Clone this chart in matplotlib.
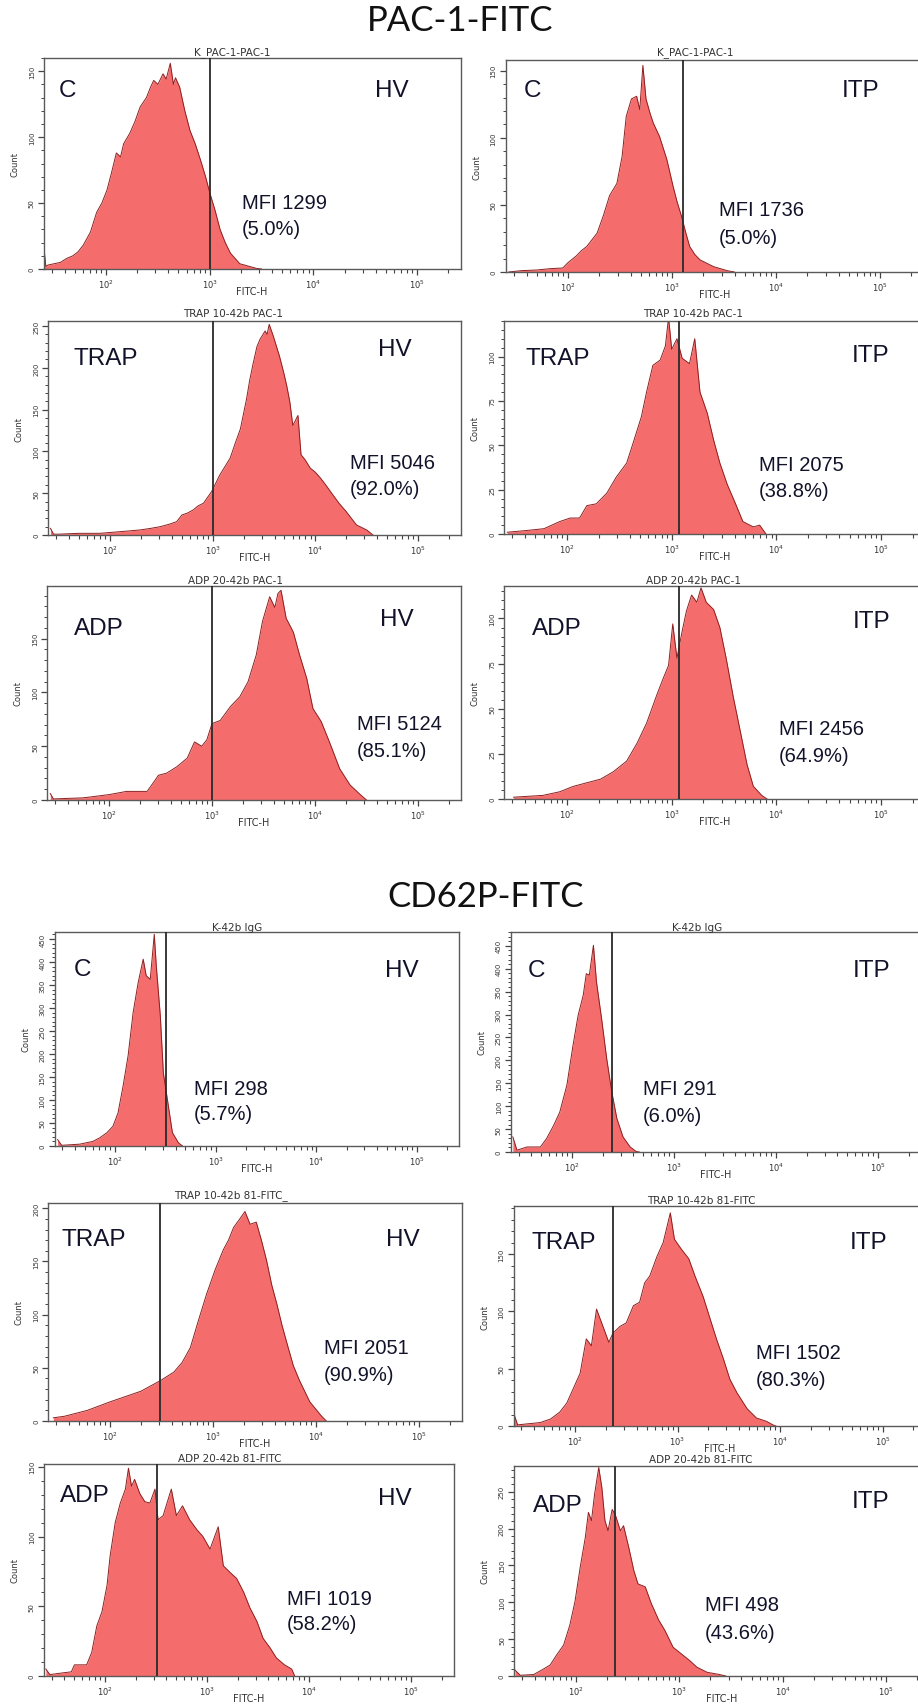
import numpy as np
import matplotlib
matplotlib.use("Agg")
import matplotlib.pyplot as plt
from matplotlib.ticker import FixedLocator, MultipleLocator, LogLocator, NullFormatter

# ---------------- data ----------------
section_titles = ["PAC-1-FITC", "CD62P-FITC"]
panel_titles = ["K_PAC-1-PAC-1", "K_PAC-1-PAC-1",
                "TRAP 10-42b PAC-1", "TRAP 10-42b PAC-1",
                "ADP 20-42b PAC-1", "ADP 20-42b PAC-1",
                "K-42b IgG", "K-42b IgG",
                "TRAP 10-42b 81-FITC_", "TRAP 10-42b 81-FITC",
                "ADP 20-42b 81-FITC", "ADP 20-42b 81-FITC"]
stimuli = ["C", "C", "TRAP", "TRAP", "ADP", "ADP", "C", "C", "TRAP", "TRAP", "ADP", "ADP"]
groups = ["HV", "ITP"] * 6
mfi = [1299, 1736, 5046, 2075, 5124, 2456, 298, 291, 2051, 1502, 1019, 498]
pct = [5.0, 5.0, 92.0, 38.8, 85.1, 64.9, 5.7, 6.0, 90.9, 80.3, 58.2, 43.6]
gates = [1000, 1275, 1000, 1175, 1000, 1175, 320, 247, 305, 235, 325, 238]
count_max = [160, 158, 256, 120, 199, 118, 465, 480, 205, 192, 152, 285]
count_step = [50, 50, 50, 25, 50, 25, 50, 50, 50, 50, 50, 50]

# histogram traces: log10(FITC-H) and Count
p1_log = [1.40, 1.42, 1.44, 1.50, 1.56, 1.62, 1.68, 1.73, 1.78, 1.85, 1.91, 1.96, 2.01, 2.05, 2.10, 2.14,
          2.17, 2.23, 2.28, 2.33, 2.39, 2.43, 2.46, 2.50, 2.55, 2.58, 2.62, 2.65, 2.67, 2.71, 2.76, 2.81,
          2.86, 2.91, 2.96, 3.00, 3.05, 3.10, 3.15, 3.20, 3.29, 3.45, 3.50]
p1_cnt = [17, 2, 3, 4, 5, 8, 10, 13, 18, 28, 43, 50, 60, 72, 88, 85, 95, 103, 112, 123, 130, 138, 143,
          140, 148, 144, 156, 140, 145, 138, 120, 105, 95, 83, 70, 58, 45, 30, 20, 12, 4, 0.5, 0]

p2_log = [1.43, 1.55, 1.70, 1.83, 1.95, 2.00, 2.08, 2.13, 2.18, 2.23, 2.28, 2.34, 2.40, 2.47, 2.52, 2.56,
          2.61, 2.66, 2.69, 2.72, 2.75, 2.79, 2.82, 2.88, 2.95, 3.01, 3.05, 3.09, 3.13, 3.17, 3.22, 3.27,
          3.40, 3.53, 3.60]
p2_cnt = [0, 1, 1.5, 2.5, 3, 7, 12, 16, 19, 24, 29, 42, 57, 66, 86, 116, 129, 131, 121, 154, 129, 118,
          111, 101, 84, 64, 52, 42, 30, 19, 13, 9, 4, 1, 0]

p3_log = [1.42, 1.45, 1.50, 1.70, 1.90, 2.10, 2.29, 2.40, 2.49, 2.58, 2.65, 2.70, 2.75, 2.81, 2.86, 2.91,
          2.95, 2.99, 3.03, 3.07, 3.12, 3.17, 3.22, 3.27, 3.30, 3.33, 3.36, 3.39, 3.43, 3.46, 3.51, 3.53,
          3.55, 3.59, 3.62, 3.65, 3.69, 3.72, 3.75, 3.78, 3.83, 3.86, 3.90, 3.95, 4.00, 4.05, 4.10, 4.17,
          4.23, 4.30, 4.35, 4.40, 4.50, 4.53, 4.56]
p3_cnt = [8, 1, 1, 2, 2, 4, 6, 8, 10, 13, 16, 24, 26, 30, 35, 38, 45, 52, 62, 72, 82, 92, 110, 127, 145,
          163, 185, 203, 225, 234, 244, 240, 252, 238, 226, 214, 195, 179, 160, 131, 143, 96, 90, 80, 75,
          68, 60, 48, 38, 28, 20, 12, 6, 3, 0]

p4_log = [1.43, 1.62, 1.78, 1.93, 2.03, 2.12, 2.19, 2.28, 2.38, 2.47, 2.57, 2.63, 2.71, 2.76, 2.82, 2.89,
          2.94, 2.97, 3.00, 3.05, 3.10, 3.17, 3.22, 3.27, 3.34, 3.40, 3.46, 3.53, 3.61, 3.68, 3.78, 3.84,
          3.90]
p4_cnt = [1, 2, 3, 7, 9, 9, 16, 17, 23, 32, 40, 51, 66, 80, 95, 98, 106, 122, 104, 110, 99, 96, 110, 80,
          68, 53, 40, 28, 17, 7, 4, 5, 0]

p5_log = [1.43, 1.46, 1.75, 2.00, 2.17, 2.37, 2.43, 2.48, 2.56, 2.66, 2.76, 2.83, 2.90, 2.95, 3.00, 3.08,
          3.18, 3.27, 3.35, 3.43, 3.49, 3.56, 3.61, 3.64, 3.67, 3.72, 3.79, 3.85, 3.92, 3.98, 4.06, 4.14,
          4.24, 4.34, 4.44, 4.50]
p5_cnt = [6, 1, 2, 5, 8, 8, 16, 23, 25, 31, 39, 54, 50, 56, 71, 74, 87, 96, 110, 135, 166, 189, 179, 192,
          195, 169, 156, 135, 113, 85, 73, 54, 29, 14, 5, 0]

p6_log = [1.49, 1.77, 1.93, 2.06, 2.19, 2.32, 2.44, 2.57, 2.67, 2.76, 2.86, 2.92, 2.97, 3.01, 3.05, 3.10,
          3.14, 3.19, 3.24, 3.28, 3.33, 3.40, 3.46, 3.52, 3.59, 3.65, 3.72, 3.78, 3.86, 3.91]
p6_cnt = [1, 2, 4, 7, 9, 11, 15, 21, 31, 42, 58, 67, 74, 97, 78, 93, 104, 113, 109, 117, 109, 105, 95, 78,
          56, 39, 19, 7, 2, 0]

p7_log = [1.43, 1.47, 1.65, 1.78, 1.85, 1.92, 1.98, 2.03, 2.08, 2.13, 2.18, 2.23, 2.28, 2.31, 2.35, 2.39,
          2.41, 2.45, 2.48, 2.53, 2.57, 2.63, 2.67]
p7_cnt = [14, 1.5, 4, 10, 18, 29, 43, 72, 130, 196, 290, 355, 406, 370, 362, 460, 391, 283, 159, 87, 29, 7, 0]

p8_log = [1.42, 1.46, 1.56, 1.69, 1.75, 1.82, 1.88, 1.95, 2.01, 2.06, 2.11, 2.14, 2.17, 2.21, 2.24, 2.29,
          2.34, 2.39, 2.44, 2.50, 2.57, 2.63, 2.66]
p8_cnt = [33, 4, 11, 11, 29, 58, 87, 146, 233, 298, 342, 389, 386, 451, 371, 291, 204, 131, 73, 33, 11, 1, 0]

p9_log = [1.45, 1.56, 1.78, 2.00, 2.15, 2.30, 2.49, 2.62, 2.70, 2.78, 2.86, 2.94, 3.02, 3.10, 3.15, 3.20,
          3.26, 3.31, 3.36, 3.42, 3.47, 3.52, 3.57, 3.62, 3.67, 3.73, 3.78, 3.84, 3.94, 4.05, 4.10]
p9_cnt = [3, 4.5, 10, 18, 23, 28, 38, 46, 55, 69, 95, 120, 142, 161, 170, 182, 190, 197, 185, 187, 170,
          151, 128, 110, 90, 69, 52, 38, 18, 5, 0]

p10_log = [1.41, 1.44, 1.66, 1.76, 1.85, 1.92, 1.98, 2.05, 2.11, 2.16, 2.21, 2.26, 2.33, 2.37, 2.44, 2.50,
           2.57, 2.63, 2.68, 2.73, 2.80, 2.86, 2.93, 2.97, 3.04, 3.11, 3.17, 3.25, 3.32, 3.38, 3.45, 3.51,
           3.58, 3.68, 3.77, 3.87, 3.93, 3.96]
p10_cnt = [9, 1, 3, 6, 12, 20, 32, 46, 76, 70, 102, 90, 73, 81, 87, 90, 105, 108, 125, 131, 148, 160, 186,
           163, 154, 146, 131, 113, 93, 76, 58, 41, 29, 15, 7, 4, 1, 0]

p11_log = [1.42, 1.46, 1.56, 1.67, 1.70, 1.82, 1.87, 1.92, 1.97, 2.02, 2.05, 2.10, 2.15, 2.20, 2.23, 2.26,
           2.29, 2.34, 2.39, 2.44, 2.49, 2.52, 2.57, 2.65, 2.70, 2.76, 2.83, 2.90, 2.96, 3.03, 3.11, 3.16,
           3.23, 3.29, 3.36, 3.42, 3.49, 3.55, 3.62, 3.68, 3.76, 3.83, 3.86]
p11_cnt = [5, 1, 2, 3, 8, 8, 17, 36, 46, 65, 86, 110, 124, 134, 149, 136, 141, 131, 125, 124, 134, 112,
           115, 134, 115, 122, 112, 105, 100, 91, 107, 79, 74, 70, 60, 49, 39, 27, 20, 13, 8, 5, 0]

p12_log = [1.41, 1.46, 1.59, 1.68, 1.75, 1.81, 1.88, 1.94, 1.99, 2.04, 2.09, 2.12, 2.15, 2.18, 2.22, 2.25,
           2.28, 2.31, 2.35, 2.38, 2.43, 2.46, 2.51, 2.56, 2.60, 2.67, 2.73, 2.80, 2.86, 2.94, 3.02, 3.10,
           3.17, 3.27, 3.39, 3.45]
p12_cnt = [8, 1, 2, 9, 15, 28, 42, 69, 101, 147, 188, 222, 211, 247, 283, 256, 211, 197, 226, 219, 197,
           204, 175, 143, 125, 121, 98, 76, 62, 39, 30, 21, 12, 5, 2, 0]

traces = [(p1_log, p1_cnt), (p2_log, p2_cnt), (p3_log, p3_cnt), (p4_log, p4_cnt),
          (p5_log, p5_cnt), (p6_log, p6_cnt), (p7_log, p7_cnt), (p8_log, p8_cnt),
          (p9_log, p9_cnt), (p10_log, p10_cnt), (p11_log, p11_cnt), (p12_log, p12_cnt)]

# ---------------- layout (pixels of the 918x1706 canvas) ----------------
W, H = 918, 1706
x100_px = [106, 568, 110, 567, 109, 567, 115, 572, 110, 575, 105, 576]
decade_px = [103.7, 104, 102.7, 104.7, 103, 104.7, 100.7, 102, 103, 102.5, 102, 103.3]
top_px = [59, 61, 322, 322, 587, 587, 933, 933, 1204, 1207, 1465, 1467]
base_px = [270, 273, 536, 535, 801, 800, 1147, 1153, 1422, 1427, 1677, 1677]
title_xy = [(232, 53), (695, 53), (233, 314), (693, 314), (235, 581), (693, 581),
            (237, 928), (697, 928), (231, 1196), (701, 1201), (230, 1459), (701, 1460)]
stim_xy = [(59, 97), (524, 97), (73, 365), (526, 365), (74, 635), (532, 635),
           (74, 976), (528, 977), (61, 1246), (532, 1249), (60, 1502), (533, 1512)]
group_xy = [(375, 97), (842, 97), (378, 356), (852, 362), (380, 626), (853, 628),
            (385, 977), (853, 977), (386, 1246), (850, 1249), (378, 1505), (852, 1508)]
mfi_xy = [(242, 209, 235), (719, 216, 244), (350, 469, 495), (759, 471, 497),
          (357, 730, 757), (779, 735, 762), (194, 1095, 1120), (643, 1095, 1122),
          (324, 1354, 1381), (756, 1359, 1386), (287, 1605, 1630), (705, 1611, 1639)]
section_xy = [(460, 21), (486, 897)]

FILL = "#f56c6c"
EDGE = "#8c1f1f"
FRAME = "#5a5a5a"
TXT = "#12122a"
LO, HI = 10 ** 1.4, 262144.0

fig = plt.figure(figsize=(W / 100, H / 100), dpi=100)
fig.patch.set_facecolor("white")


def fxy(x, y):
    return x / W, 1 - y / H


for (t, (sx, sy)) in zip(section_titles, section_xy):
    fig.text(*fxy(sx, sy), t, ha="center", va="center", fontsize=25,
             family=["Lato", "DejaVu Sans"], color="#111111")

for i in range(12):
    left = x100_px[i] - (2 - np.log10(LO)) * decade_px[i]
    right = x100_px[i] + (np.log10(HI) - 2) * decade_px[i]
    hpx = base_px[i] - top_px[i]
    ax = fig.add_axes([left / W, 1 - base_px[i] / H, (right - left) / W, hpx / H])
    ax.set_xscale("log")
    ax.set_xlim(LO, HI)
    ax.set_ylim(0, count_max[i])

    lx, cnt = traces[i]
    xs = 10 ** np.asarray(lx, dtype=float)
    cnt = np.asarray(cnt, dtype=float)
    ax.fill_between(xs, cnt, 0, color=FILL, lw=0, zorder=1)
    ax.plot(xs, cnt, color=EDGE, lw=0.7, zorder=2)
    ax.axvline(gates[i], color="#2a2a2a", lw=1.3, zorder=3)

    for sp in ax.spines.values():
        sp.set_color(FRAME)
        sp.set_linewidth(1.0)

    # x ticks
    ax.set_xticks([1e2, 1e3, 1e4, 1e5],
                  labels=[r"$10^{2}$", r"$10^{3}$", r"$10^{4}$", r"$10^{5}$"])
    ax.xaxis.set_minor_locator(LogLocator(base=10, subs=np.arange(2, 10), numticks=30))
    ax.xaxis.set_minor_formatter(NullFormatter())
    ax.tick_params(axis="x", which="major", length=4.5, width=0.9, color="#444444",
                   labelsize=6, pad=2, labelcolor="#333333")
    ax.tick_params(axis="x", which="minor", length=2.8, width=0.8, color="#444444")

    # y ticks
    step = count_step[i]
    yt = np.arange(0, count_max[i] + 0.1, step)
    ax.set_yticks(yt, labels=[str(int(v)) for v in yt], rotation=90, va="center")
    ax.yaxis.set_minor_locator(MultipleLocator(step / 5))
    ax.tick_params(axis="y", which="major", length=4.5, width=0.9, color="#444444",
                   labelsize=5, pad=2, labelcolor="#333333")
    ax.tick_params(axis="y", which="minor", length=2.5, width=0.7, color="#444444")

    ax.text(0.5, -22.0 / hpx, "FITC-H", transform=ax.transAxes, ha="center", va="center",
            fontsize=7, color="#333333")
    ax.text(-29.0 / (right - left), 0.5, "Count", transform=ax.transAxes, ha="center",
            va="center", rotation=90, fontsize=6, color="#333333")

    tx, ty = title_xy[i]
    fig.text(*fxy(tx, ty), panel_titles[i], ha="center", va="center", fontsize=7.5,
             color="#333333")

    sx, sy = stim_xy[i]
    fig.text(*fxy(sx, sy), stimuli[i], ha="left", va="baseline", fontsize=17.5,
             family="Liberation Sans", color=TXT)
    gx, gy = group_xy[i]
    fig.text(*fxy(gx, gy), groups[i], ha="left", va="baseline", fontsize=17.5,
             family="Liberation Sans", color=TXT)
    mx, my1, my2 = mfi_xy[i]
    fig.text(*fxy(mx, my1), f"MFI {mfi[i]}", ha="left", va="baseline", fontsize=14.5,
             family="Liberation Sans", color=TXT)
    fig.text(*fxy(mx, my2), f"({pct[i]:.1f}%)", ha="left", va="baseline", fontsize=14.5,
             family="Liberation Sans", color=TXT)

fig.savefig("out.png", dpi=100, facecolor="white")
